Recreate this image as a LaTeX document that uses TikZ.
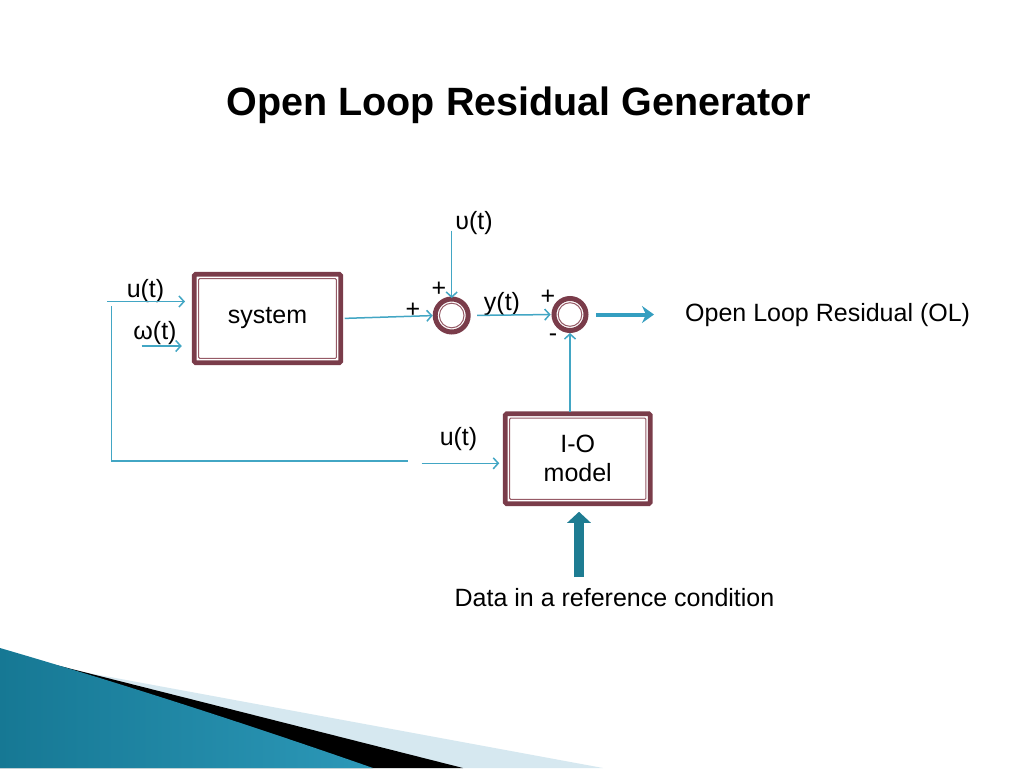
\documentclass[tikz,border=0pt]{standalone}
\usepackage{fontspec}
\setmainfont{Liberation Sans}
\usetikzlibrary{arrows.meta,shapes.geometric}
\definecolor{sigc}{RGB}{66,166,196}
\definecolor{boxc}{RGB}{122,60,74}
\definecolor{boxin}{RGB}{150,90,102}
\definecolor{thickc}{RGB}{52,158,192}
\definecolor{blockc}{RGB}{30,124,146}
\definecolor{lightb}{RGB}{214,232,240}
\definecolor{tealdark}{RGB}{22,120,148}
\definecolor{teallight}{RGB}{100,198,230}
\definecolor{tealmid}{RGB}{44,152,184}
\begin{document}
\begin{tikzpicture}[x=1pt,y=-1pt,
  txt/.style={font=\fontsize{25}{29}\selectfont, inner sep=0pt},
  sgn/.style={font=\fontsize{25}{29}\selectfont, inner sep=0pt},
  blk/.style={draw=boxc, line width=4.8pt, fill=white, rounded corners=1.5pt, outer sep=0pt, inner sep=0pt, align=center, font=\fontsize{25}{29}\selectfont},
  sumc/.style={circle, draw=boxc, line width=5pt, fill=white, outer sep=0pt, inner sep=0pt},
  inl/.style={draw=boxin, line width=1pt},
  sig/.style={draw=sigc, line width=1.5pt},
  sigarr/.style={sig, -{Straight Barb[length=5pt,width=11pt]}},
]
\useasboundingbox (0,0) rectangle (1024,768);
\fill[white] (0,0) rectangle (1024,768);

% bottom-left decoration
\fill[lightb] (72,670) -- (603,768) -- (0,768) -- cycle;
\fill[black] (52,664) -- (463,768) -- (0,768) -- cycle;
\shade[left color=tealdark, middle color=teallight, right color=tealmid]
  (0,648) .. controls (120,683) and (250,725) .. (373,768) -- (0,768) -- cycle;

% title
\node[font=\fontsize{39.5}{44}\selectfont\bfseries, anchor=base, inner sep=0pt] (title) at (518.5,115) {Open Loop Residual Generator};

% blocks
\node[blk, minimum width=146.5pt, minimum height=88.5pt] (sys) at (267.5,318.5) {system};
\draw[inl, rounded corners=1pt] ([shift={(4.4,4.4)}]sys.north west) rectangle ([shift={(-4.4,-4.4)}]sys.south east);
\node[blk, minimum width=145pt, minimum height=90pt] (io) at (577.75,458.75) {I-O\\model};
\draw[inl, rounded corners=1pt] ([shift={(4.4,4.4)}]io.north west) rectangle ([shift={(-4.4,-4.4)}]io.south east);

% summing junctions
\node[sumc, minimum size=33pt] (s1) at (451.7,315.5) {};
\draw[inl] (s1.center) circle (12.3pt);
\node[sumc, minimum size=32pt] (s2) at (570,314.5) {};
\draw[inl] (s2.center) circle (11.8pt);

% labels
\node[txt, anchor=base] (lu) at (145.5,297) {u(t)};
\node[txt, anchor=base] (lw) at (155,339) {ω(t)};
\node[txt, anchor=base] (lv) at (474,229) {υ(t)};
\node[txt, anchor=base] (ly) at (502,310) {y(t)};
\node[txt, anchor=base] (lu2) at (458.5,445) {u(t)};
\node[txt, anchor=base west] (ol) at (685,321) {Open Loop Residual (OL)};
\node[txt, anchor=base] (data) at (614.5,606) {Data in a reference condition};
\node[sgn] (p1) at (413,310) {+};
\node[sgn] (p2) at (439,289) {+};
\node[sgn] (p3) at (548,297) {+};
\node[sgn] (m1) at (553,338) {-};

% connectors
\coordinate (uin) at (107,301.5);
\draw[sigarr, shorten >=9.25pt] (uin) -- (uin -| sys.west);
\coordinate (win) at (141.7,346);
\draw[sigarr, shorten >=12.5pt] (win) -- (win -| sys.west);
\coordinate (fb) at (111.5,306);
\coordinate (fbc) at (111.5,461);
\coordinate (fbe) at (408,461);
\draw[sig] (fb) -- (fbc) -- (fbe);
\coordinate (fb2) at (421.7,463.3);
\draw[sigarr, shorten >=6pt] (fb2) -- (fb2 -| io.west);
\draw[sigarr, shorten <=4pt, shorten >=2.5pt] (sys.east) -- (s1.west);
\coordinate (vin) at (451.7,230.7);
\draw[sigarr, shorten >=1pt] (vin) -- (s1.north);
\draw[sigarr, shorten <=9pt, shorten >=3.3pt] (s1.east) -- (s2.west);
\draw[sigarr, shorten <=2.25pt, shorten >=2.5pt] (s2.south |- io.north) -- (s2.south);
\draw[thickc, line width=4pt, -{Stealth[length=12pt,width=17pt,inset=4pt]}, shorten <=10pt, shorten >=31pt] (s2.east) -- (s2.east -| ol.west);
\coordinate (dstart) at (579,577);
\draw[blockc, line width=9.7pt, -{Triangle[length=11pt,width=23pt]}, shorten >=8pt] (dstart) -- (dstart |- io.south);
\end{tikzpicture}
\end{document}
